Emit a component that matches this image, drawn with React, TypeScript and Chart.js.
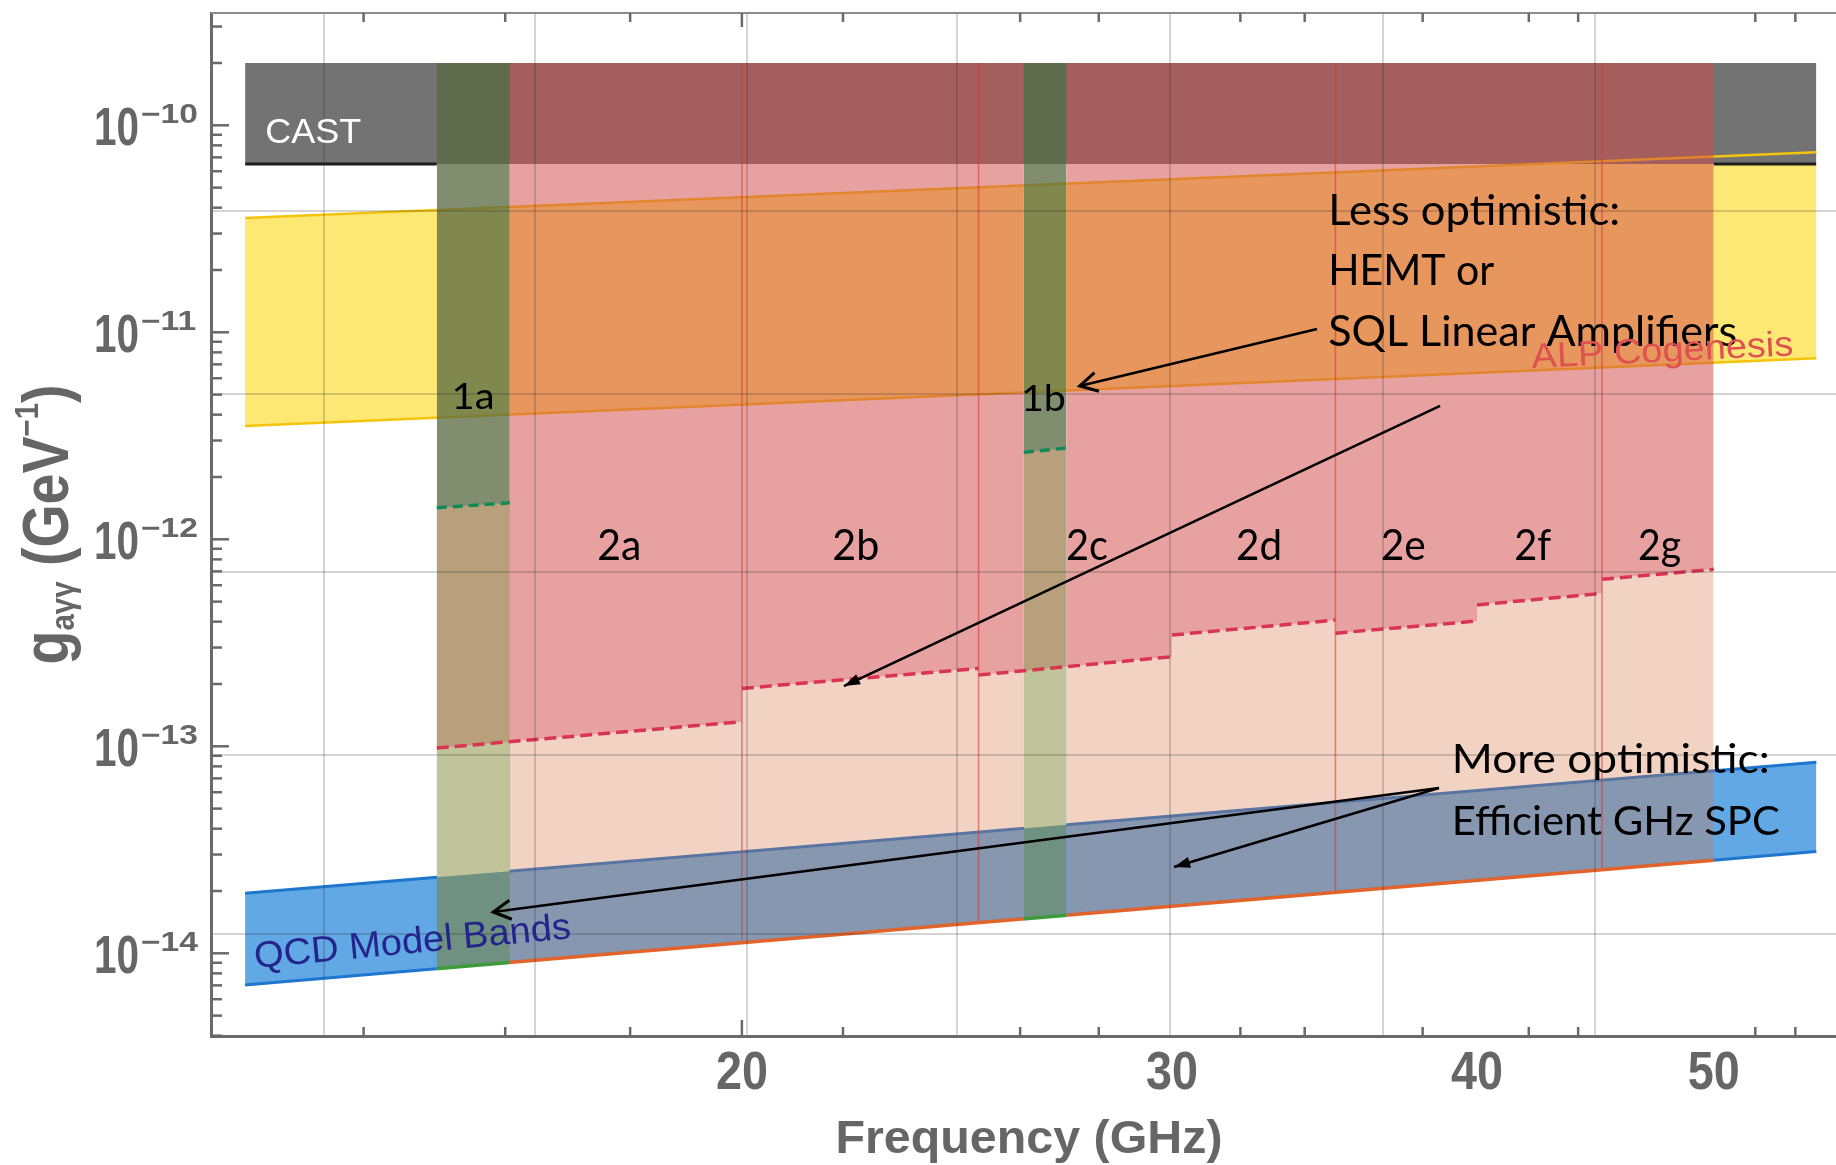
import React, { useEffect, useRef } from 'react';
import { Chart, registerables } from 'chart.js';

// ---------------- axis ranges ----------------
const FREQ_MIN = 12.124;
const FREQ_MAX = 56.11;
const G_MIN = 3.9855e-15;
const G_MAX = 3.4875e-10;

// ---------------- reference bands (GHz, GeV^-1) ----------------
const BAND_FREQ = [12.52, 55.08];
const CAST_LIMIT = [6.5e-11, 2.0e-10]; // lower edge, top of shaded box
const ALP_UPPER = [3.57e-11, 7.42e-11];
const ALP_LOWER = [3.53e-12, 7.5e-12];
const QCD_UPPER = [1.95e-14, 8.37e-14];
const QCD_LOWER = [7.03e-15, 3.1e-14];

// ---------------- stage-1 cavities ----------------
const STAGE1_NAMES = ['1a', '1b'];
const STAGE1_F_START = [15.0, 26.09];
const STAGE1_F_END = [16.07, 27.16];
const STAGE1_REACH_START = [1.42e-12, 2.63e-12];
const STAGE1_REACH_END = [1.5e-12, 2.76e-12];

// ---------------- stage-2 cavities ----------------
const STAGE2_NAMES = ['2a', '2b', '2c', '2d', '2e', '2f', '2g'];
const STAGE2_F_START = [15, 20, 25, 30, 35, 40, 45];
const STAGE2_F_END = [20, 25, 30, 35, 40, 45, 50];
const STAGE2_REACH_START = [9.81e-14, 1.904e-13, 2.21e-13, 3.45e-13, 3.52e-13, 4.82e-13, 6.41e-13];
const STAGE2_REACH_END = [1.315e-13, 2.38e-13, 2.71e-13, 4.07e-13, 4.03e-13, 5.48e-13, 7.16e-13];
const STAGE2_DIVIDERS = [20, 25, 35, 45];

// ---------------- arrows ----------------
const ARROW_FROM_F = [34.4, 38.63, 38.59, 38.59];
const ARROW_FROM_G = [1.038e-11, 4.41e-12, 6.29e-14, 6.29e-14];
const ARROW_TO_F = [27.5, 22.02, 15.82, 30.06];
const ARROW_TO_G = [5.5e-12, 1.955e-13, 1.583e-14, 2.612e-14];
const ARROW_HEAD = ['open', 'filled', 'open', 'filled'];

// ---------------- ticks / grid ----------------
const X_TICK_LABELS = [20, 30, 40, 50];
const X_TICKS_MAJOR = [20];
const X_TICKS_MINOR = [14, 16, 18, 22, 26, 28, 32, 34, 38, 42, 44, 52, 54];
const Y_TICK_EXPONENTS = [-10, -11, -12, -13, -14];
const Y_MINOR_DECADES = [-15, -14, -13, -12, -11, -10];
const Y_MINOR_MULTIPLES = [2, 3, 4, 5, 6, 7, 8, 9];
const GRID_X = [13.49, 16.45, 20.1, 24.5, 29.95, 36.6, 44.7];
const GRID_Y = [3.86e-11, 5.04e-12, 6.95e-13, 9.08e-14, 1.24e-14];

// ---------------- label placement (data coords) ----------------
const STAGE1_LABEL_F = [15.21, 26.02];
const STAGE1_LABEL_G = [4.26e-12, 4.17e-12];
const STAGE1_LABEL_W = [43, 45];
const STAGE2_LABEL_F = [17.45, 21.78, 27.15, 31.87, 36.53, 41.43, 46.56];
const STAGE2_LABEL_G = 7.94e-13;
const STAGE2_LABEL_W = [44, 47, 42, 46, 45, 37, 43];

const NOTES = [
  { text: 'CAST', f: 12.76, g: 8.21e-11, font: '35px "Liberation Sans"', color: '#ffffff', width: 96, rot: 0 },
  { text: 'Less optimistic:', f: 34.76, g: 3.3e-11, font: '42px Lato', color: '#000000', width: 292, rot: 0 },
  { text: 'HEMT or', f: 34.76, g: 1.692e-11, font: '42px Lato', color: '#000000', width: 166, rot: 0 },
  { text: 'SQL Linear Amplifiers', f: 34.76, g: 8.59e-12, font: '42px Lato', color: '#000000', width: 409, rot: 0 },
  { text: 'ALP Cogenesis', f: 42.13, g: 6.72e-12, font: '35px "Liberation Sans"', color: '#df5050', width: 262, rot: -2.8 },
  { text: 'More optimistic:', f: 39.06, g: 7.43e-14, font: '40px Lato', color: '#000000', width: 318, rot: 0 },
  { text: 'Efficient GHz SPC', f: 39.06, g: 3.73e-14, font: '40px Lato', color: '#000000', width: 328, rot: 0 },
  { text: 'QCD Model Bands', f: 12.64, g: 8.49e-15, font: '37px "Liberation Sans"', color: '#24248c', width: 318, rot: -5.4 },
];

// ---------------- styles ----------------
const AXIS_COLOR = '#6a6a6a';
const LABEL_COLOR = '#666666';
const GRID_COLOR = 'rgba(40,40,40,0.2)';
const YELLOW = '#fde874';
const YELLOW_EDGE = '#f4c40c';
const BLUE = '#61a8e4';
const BLUE_EDGE = '#1f76cf';
const CAST_GRAY = '#737373';
const PINK = 'rgba(211,74,74,0.52)';
const PEACH = 'rgba(215,117,67,0.325)';
const GREEN = 'rgba(88,105,65,0.76)';
const TAN = '#b8a07c';
const KHAKI = '#c1c39a';
const TEAL = '#6e9181';
const ORANGE_EDGE = '#e2642a';
const GREEN_EDGE = '#3d9b3a';
const RED_DASH = '#d93452';
const GREEN_DASH = '#128a58';
const RED_DIVIDER = 'rgba(215,55,55,0.55)';

// clip datasets to x-ranges (registered before the filler so fills are clipped too)
const xClipPlugin = {
  id: 'xClipRanges',
  beforeDatasetDraw(chart: any, args: any) {
    const ds = chart.data.datasets[args.index];
    if (!ds || !ds.xClip) return;
    const { ctx, chartArea } = chart;
    const xs = chart.scales.x;
    ctx.save();
    ctx.beginPath();
    for (const r of ds.xClip) {
      const a = xs.getPixelForValue(r[0]);
      const b = xs.getPixelForValue(r[1]);
      ctx.rect(a, chartArea.top - 5, b - a, chartArea.bottom - chartArea.top + 10);
    }
    ctx.clip();
  },
  afterDatasetDraw(chart: any, args: any) {
    const ds = chart.data.datasets[args.index];
    if (ds && ds.xClip) chart.ctx.restore();
  },
};

Chart.register(xClipPlugin as any);
Chart.register(...registerables);

function pts(xs: number[], ys: number[]) {
  return xs.map((x, i) => ({ x, y: ys[i] }));
}

function drawText(ctx: any, text: string, x: number, y: number, font: string, color: string, opts: any = {}) {
  ctx.save();
  ctx.font = font;
  const m = ctx.measureText(text).width;
  const sx = opts.width ? opts.width / m : opts.sx || 1;
  ctx.translate(x, y);
  if (opts.rot) ctx.rotate((opts.rot * Math.PI) / 180);
  ctx.scale(sx, 1);
  ctx.fillStyle = color;
  ctx.textBaseline = 'alphabetic';
  ctx.textAlign = 'left';
  const off = opts.align === 'center' ? -m / 2 : opts.align === 'right' ? -m : 0;
  ctx.fillText(text, off, 0);
  ctx.restore();
}

function arrowHead(ctx: any, x1: number, y1: number, x2: number, y2: number, kind: string) {
  const ang = Math.atan2(y2 - y1, x2 - x1);
  const L = kind === 'open' ? 20 : 17;
  const half = kind === 'open' ? 0.5 : 0.33;
  const ax = x2 - L * Math.cos(ang - half);
  const ay = y2 - L * Math.sin(ang - half);
  const bx = x2 - L * Math.cos(ang + half);
  const by = y2 - L * Math.sin(ang + half);
  ctx.save();
  ctx.strokeStyle = '#000';
  ctx.fillStyle = '#000';
  ctx.lineWidth = 3;
  ctx.lineJoin = 'miter';
  ctx.beginPath();
  if (kind === 'open') {
    ctx.moveTo(ax, ay);
    ctx.lineTo(x2, y2);
    ctx.lineTo(bx, by);
    ctx.stroke();
  } else {
    ctx.moveTo(x2, y2);
    ctx.lineTo(ax, ay);
    ctx.lineTo(bx, by);
    ctx.closePath();
    ctx.fill();
  }
  ctx.restore();
}

const decorPlugin = {
  id: 'decor',
  afterDraw(chart: any) {
    const { ctx, chartArea: ca } = chart;
    const xs = chart.scales.x;
    const ys = chart.scales.y;
    const X = (v: number) => xs.getPixelForValue(v);
    const Y = (v: number) => ys.getPixelForValue(v);

    ctx.save();
    // top frame
    ctx.strokeStyle = '#8c8c8c';
    ctx.lineWidth = 2;
    ctx.beginPath();
    ctx.moveTo(ca.left, ca.top);
    ctx.lineTo(ca.right, ca.top);
    ctx.stroke();

    // inward ticks
    ctx.strokeStyle = AXIS_COLOR;
    ctx.lineWidth = 2.5;
    const seg = (a: number, b: number, c: number, d: number) => {
      ctx.beginPath();
      ctx.moveTo(a, b);
      ctx.lineTo(c, d);
      ctx.stroke();
    };
    for (const v of X_TICKS_MAJOR) {
      const p = X(v);
      seg(p, ca.bottom, p, ca.bottom - 16);
      seg(p, ca.top, p, ca.top + 14);
    }
    for (const v of X_TICKS_MINOR) {
      const p = X(v);
      seg(p, ca.bottom, p, ca.bottom - 9);
      seg(p, ca.top, p, ca.top + 9);
    }
    for (const e of Y_TICK_EXPONENTS) {
      const p = Y(Math.pow(10, e));
      seg(ca.left, p, ca.left + 18, p);
    }
    for (const d of Y_MINOR_DECADES) {
      for (const m of Y_MINOR_MULTIPLES) {
        const v = m * Math.pow(10, d);
        if (v < G_MIN || v > G_MAX) continue;
        const p = Y(v);
        seg(ca.left, p, ca.left + 11, p);
      }
    }
    ctx.restore();

    // x tick labels
    ctx.save();
    ctx.font = 'bold 53px "Liberation Sans"';
    const sxX = 52 / ctx.measureText('20').width;
    ctx.restore();
    for (const v of X_TICK_LABELS) {
      drawText(ctx, String(v), X(v), 1089, 'bold 53px "Liberation Sans"', LABEL_COLOR, { sx: sxX, align: 'center' });
    }
    // y tick labels 10^n
    ctx.save();
    ctx.font = 'bold 53px "Liberation Sans"';
    const sxB = 45 / ctx.measureText('10').width;
    ctx.font = 'bold 27px "Liberation Sans"';
    const sxE = 57 / ctx.measureText('\u221210').width;
    ctx.restore();
    for (const e of Y_TICK_EXPONENTS) {
      const p = Y(Math.pow(10, e));
      drawText(ctx, '10', 94, p + 19.7, 'bold 53px "Liberation Sans"', LABEL_COLOR, { sx: sxB });
      drawText(ctx, '\u2212' + String(-e), 141, p - 2, 'bold 27px "Liberation Sans"', LABEL_COLOR, { sx: sxE });
    }
    // axis titles
    drawText(ctx, 'Frequency (GHz)', 1029, 1153, 'bold 46px "Liberation Sans"', LABEL_COLOR, { width: 387, align: 'center' });

    // y title: g_{aγγ} (GeV^-1)
    const parts = [
      { t: 'g', size: 64, dy: 0 },
      { t: 'a\u03b3\u03b3', size: 34, dy: 6 },
      { t: ' (GeV', size: 64, dy: 0 },
      { t: '\u22121', size: 34, dy: -30 },
      { t: ')', size: 64, dy: 0 },
    ];
    ctx.save();
    let total = 0;
    const widths: number[] = [];
    for (const p of parts) {
      ctx.font = `bold ${p.size}px "Liberation Sans"`;
      const w = ctx.measureText(p.t).width;
      widths.push(w);
      total += w;
    }
    const s = 280 / total;
    ctx.translate(68, (ca.top + ca.bottom) / 2);
    ctx.rotate(-Math.PI / 2);
    ctx.scale(s, 1);
    ctx.fillStyle = LABEL_COLOR;
    ctx.textBaseline = 'alphabetic';
    let cx = -total / 2;
    parts.forEach((p, i) => {
      ctx.font = `bold ${p.size}px "Liberation Sans"`;
      ctx.fillText(p.t, cx, p.dy);
      cx += widths[i];
    });
    ctx.restore();

    // arrow heads
    for (let i = 0; i < ARROW_HEAD.length; i++) {
      arrowHead(ctx, X(ARROW_FROM_F[i]), Y(ARROW_FROM_G[i]), X(ARROW_TO_F[i]), Y(ARROW_TO_G[i]), ARROW_HEAD[i]);
    }

    // cavity labels
    STAGE1_NAMES.forEach((n, i) => {
      drawText(ctx, n, X(STAGE1_LABEL_F[i]), Y(STAGE1_LABEL_G[i]), '37px Lato', '#000', { width: STAGE1_LABEL_W[i] });
    });
    STAGE2_NAMES.forEach((n, i) => {
      drawText(ctx, n, X(STAGE2_LABEL_F[i]), Y(STAGE2_LABEL_G), '42px Lato', '#000', { width: STAGE2_LABEL_W[i] });
    });
    // annotations
    for (const nt of NOTES) {
      drawText(ctx, nt.text, X(nt.f), Y(nt.g), nt.font, nt.color, { width: nt.width, rot: nt.rot });
    }
  },
};

function buildConfig(): any {
  const base = {
    pointRadius: 0,
    pointHoverRadius: 0,
    pointHitRadius: 0,
    tension: 0,
    borderWidth: 0,
    borderColor: 'rgba(0,0,0,0)',
    backgroundColor: 'rgba(0,0,0,0)',
    fill: false,
    spanGaps: false,
  };
  const ds: any[] = [];
  const add = (d: any) => {
    ds.push({ ...base, ...d });
    return ds.length - 1;
  };

  const alpTop = pts(BAND_FREQ, ALP_UPPER);
  const alpBot = pts(BAND_FREQ, ALP_LOWER);
  const qcdTop = pts(BAND_FREQ, QCD_UPPER);
  const qcdBot = pts(BAND_FREQ, QCD_LOWER);
  const castTop = pts(BAND_FREQ, [CAST_LIMIT[1], CAST_LIMIT[1]]);
  const castBot = pts(BAND_FREQ, [CAST_LIMIT[0], CAST_LIMIT[0]]);
  const step: any[] = [];
  STAGE2_F_START.forEach((f, i) => {
    step.push({ x: f, y: STAGE2_REACH_START[i] });
    step.push({ x: STAGE2_F_END[i], y: STAGE2_REACH_END[i] });
  });

  const stage2Lo = STAGE2_F_START[0];
  const stage2Hi = STAGE2_F_END[STAGE2_F_END.length - 1];
  const pinkRanges = [
    [STAGE1_F_END[0], STAGE1_F_START[1]],
    [STAGE1_F_END[1], stage2Hi],
  ];

  // invisible boundary targets
  const tAlpBot = add({ label: 'ALP lower (target)', data: alpBot });
  const tQcdTop = add({ label: 'QCD upper (target)', data: qcdTop });
  const tQcdBot = add({ label: 'QCD lower (target)', data: qcdBot });
  const tStep = add({ label: 'stage 2 reach (target)', data: step });

  // base bands
  add({ label: 'ALP cogenesis', data: alpTop, fill: tAlpBot, backgroundColor: YELLOW });
  add({ label: 'QCD band', data: qcdTop, fill: tQcdBot, backgroundColor: BLUE });
  add({ label: 'CAST', data: castTop, fill: { value: CAST_LIMIT[0] }, backgroundColor: CAST_GRAY });
  add({ label: 'ALP upper edge', data: alpTop, borderColor: YELLOW_EDGE, borderWidth: 2.5 });
  add({ label: 'ALP lower edge', data: alpBot, borderColor: YELLOW_EDGE, borderWidth: 2.5 });
  add({ label: 'QCD upper edge', data: qcdTop, borderColor: BLUE_EDGE, borderWidth: 3 });
  add({ label: 'QCD lower edge', data: qcdBot, borderColor: BLUE_EDGE, borderWidth: 3 });
  add({
    label: 'CAST edge',
    data: castBot,
    borderColor: '#1e1e1e',
    borderWidth: 3,
    xClip: [
      [BAND_FREQ[0], stage2Lo],
      [stage2Hi, BAND_FREQ[1]],
    ],
  });

  // stage 2 reach regions
  add({ label: 'stage 2 less optimistic', data: step, fill: { value: CAST_LIMIT[1] }, backgroundColor: PINK, xClip: pinkRanges });
  add({ label: 'stage 2 more optimistic', data: step, fill: tQcdBot, backgroundColor: PEACH, xClip: pinkRanges });
  STAGE2_DIVIDERS.forEach((f) => {
    add({ label: 'divider ' + f, data: [{ x: f, y: CAST_LIMIT[1] }, { x: f, y: 1e-16 }], borderColor: RED_DIVIDER, borderWidth: 1.6 });
  });
  add({ label: 'mask', data: qcdBot, fill: 'start', backgroundColor: '#ffffff', xClip: [[stage2Lo, stage2Hi]] });

  // stage 1 regions
  STAGE1_NAMES.forEach((n, i) => {
    const g = [
      { x: STAGE1_F_START[i], y: STAGE1_REACH_START[i] },
      { x: STAGE1_F_END[i], y: STAGE1_REACH_END[i] },
    ];
    add({ label: n + ' qcd', data: g, fill: tQcdBot, backgroundColor: TEAL });
    add({ label: n + ' more', data: g, fill: tQcdTop, backgroundColor: KHAKI });
    add({ label: n + ' mid', data: g, fill: tStep, backgroundColor: TAN });
    add({
      label: n + ' less',
      data: g,
      fill: { value: CAST_LIMIT[1] },
      backgroundColor: GREEN,
      borderColor: GREEN_DASH,
      borderWidth: 3.5,
      borderDash: [10, 6],
    });
  });

  const stage1Ranges = STAGE1_F_START.map((f, i) => [f, STAGE1_F_END[i]]);
  add({ label: 'orange edge', data: qcdBot, borderColor: ORANGE_EDGE, borderWidth: 3.5, xClip: pinkRanges });
  add({ label: 'green edge', data: qcdBot, borderColor: GREEN_EDGE, borderWidth: 3.5, xClip: stage1Ranges });

  STAGE2_NAMES.forEach((n, i) => {
    add({
      label: n + ' reach',
      data: [
        { x: STAGE2_F_START[i], y: STAGE2_REACH_START[i] },
        { x: STAGE2_F_END[i], y: STAGE2_REACH_END[i] },
      ],
      borderColor: RED_DASH,
      borderWidth: 3.5,
      borderDash: [12, 6],
    });
  });

  ARROW_HEAD.forEach((_, i) => {
    add({
      label: 'arrow ' + i,
      data: [
        { x: ARROW_FROM_F[i], y: ARROW_FROM_G[i] },
        { x: ARROW_TO_F[i], y: ARROW_TO_G[i] },
      ],
      borderColor: '#000000',
      borderWidth: 2.5,
    });
  });

  ds.forEach((d, i) => {
    d.order = ds.length - i;
  });

  return {
    type: 'line',
    data: { datasets: ds },
    options: {
      responsive: false,
      maintainAspectRatio: false,
      animation: false,
      devicePixelRatio: 1,
      events: [],
      layout: { padding: { top: 13, right: 0, bottom: 0, left: 0 } },
      plugins: {
        legend: { display: false },
        tooltip: { enabled: false },
        colors: { enabled: false },
        filler: { propagate: true },
      },
      scales: {
        x: {
          type: 'logarithmic',
          min: FREQ_MIN,
          max: FREQ_MAX,
          bounds: 'data',
          position: 'bottom',
          afterBuildTicks: (s: any) => {
            s.ticks = GRID_X.map((v) => ({ value: v }));
          },
          afterFit: (s: any) => {
            s.height = 1165 - 1036;
          },
          ticks: { display: false },
          grid: { display: true, drawTicks: false, color: GRID_COLOR, lineWidth: 2, z: 1 },
          border: { display: true, color: AXIS_COLOR, width: 3, z: 2 },
        },
        y: {
          type: 'logarithmic',
          min: G_MIN,
          max: G_MAX,
          bounds: 'data',
          position: 'left',
          afterBuildTicks: (s: any) => {
            s.ticks = GRID_Y.map((v) => ({ value: v }));
          },
          afterFit: (s: any) => {
            s.width = 211;
          },
          ticks: { display: false },
          grid: { display: true, drawTicks: false, color: GRID_COLOR, lineWidth: 2, z: 1 },
          border: { display: true, color: AXIS_COLOR, width: 3, z: 2 },
        },
      },
    },
    plugins: [decorPlugin],
  };
}

export default function App() {
  const ref = useRef<HTMLCanvasElement | null>(null);
  useEffect(() => {
    const canvas = ref.current;
    if (!canvas) return;
    const chart = new Chart(canvas, buildConfig());
    return () => chart.destroy();
  }, []);
  return (
    <div style={{ position: 'absolute', left: 0, top: 0, width: 1836, height: 1165, background: '#ffffff' }}>
      <canvas ref={ref} width={1836} height={1165} style={{ display: 'block', width: 1836, height: 1165 }} />
    </div>
  );
}
